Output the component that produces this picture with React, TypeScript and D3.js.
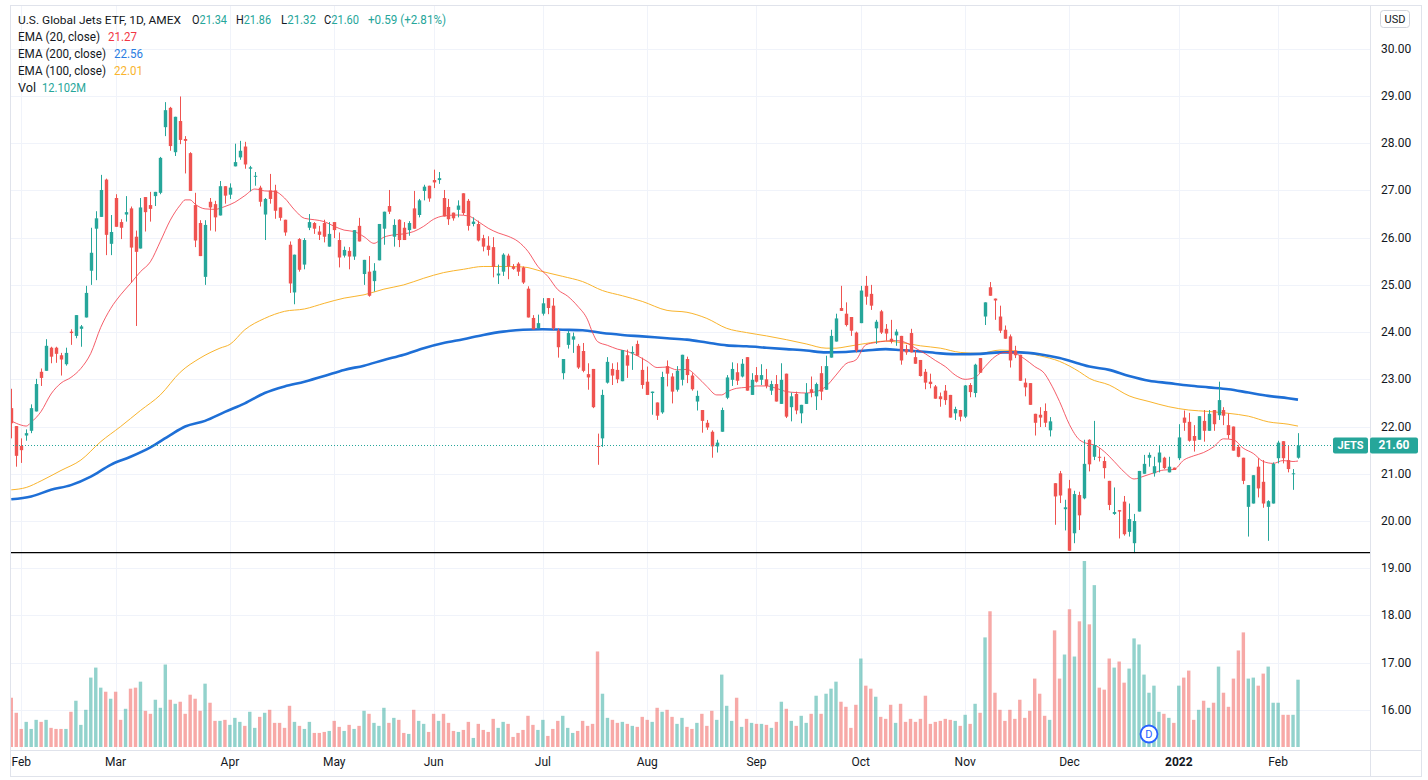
import React from 'react';
import * as d3 from 'd3';

// ---- Daily candles (Jan 28 2021 .. Feb 7 2022) ----
const opens = [22.39,22.01,21.59,21.81,21.91,22.32,23.16,23.18,23.67,23.67,23.51,23.32,24.01,23.92,24.07,24.31,25.30,26.19,26.44,27.23,25.87,26.84,26.33,26.49,26.62,26.02,25.77,26.86,26.69,26.88,26.95,28.34,28.75,27.81,28.47,28.09,27.79,26.69,26.31,25.17,26.76,26.71,26.47,27.09,26.91,27.51,27.70,27.93,27.46,27.29,27.06,26.49,27.00,27.00,26.64,26.38,25.85,24.84,25.97,25.43,26.21,26.31,26.13,26.31,25.81,26.33,25.95,25.62,25.72,25.60,26.25,25.23,25.28,25.08,25.52,26.19,26.67,26.02,26.38,26.21,26.16,26.62,26.48,26.99,27.10,27.22,27.22,26.84,26.65,26.53,26.59,26.94,26.78,26.29,26.29,25.99,25.83,25.80,25.20,25.28,25.62,25.39,25.45,25.37,24.92,24.30,24.08,24.39,24.72,24.56,24.03,23.13,23.73,23.84,23.71,23.60,23.11,23.22,21.59,21.75,22.93,23.22,23.20,22.96,23.51,23.55,23.75,23.20,22.95,22.71,22.51,22.30,23.28,23.06,22.78,22.99,23.43,23.08,22.53,22.35,22.08,21.89,21.58,21.89,22.61,22.99,23.15,23.06,23.47,22.67,23.09,22.99,23.00,22.76,22.90,22.48,23.12,22.41,22.69,22.28,22.48,22.79,22.64,23.13,22.78,23.46,23.80,24.51,24.39,24.32,23.99,24.19,24.98,24.81,24.08,24.44,24.07,23.86,23.93,23.92,23.64,23.98,23.47,23.41,23.16,22.95,22.85,22.64,22.76,22.67,22.28,22.35,22.21,22.88,22.71,23.45,24.33,24.95,24.71,24.33,24.05,23.91,23.61,23.52,22.93,22.92,22.27,22.25,22.33,21.92,20.80,21.01,20.25,20.69,19.74,20.55,20.48,21.72,21.36,21.36,21.27,20.85,20.15,20.23,20.41,19.77,19.53,20.20,21.00,21.34,21.01,21.24,21.34,21.03,21.13,21.33,22.19,22.10,21.80,21.72,22.12,21.91,22.35,22.24,22.35,22.03,22.00,21.57,21.34,20.30,20.37,21.15,20.83,20.30,20.37,21.33,21.69,21.29,20.99,21.34];
const highs = [22.80,22.01,21.75,21.94,22.47,23.01,23.23,23.85,23.69,23.69,23.56,23.67,24.06,24.36,24.15,24.98,26.21,26.56,27.33,27.25,26.48,26.92,26.39,26.88,26.66,26.15,26.84,26.86,26.97,26.97,27.71,28.87,28.77,28.56,28.99,28.15,27.81,26.95,26.37,26.37,26.84,26.78,27.20,27.09,27.15,27.99,28.05,28.03,27.52,27.39,27.10,26.84,27.35,27.12,26.64,26.38,25.92,25.64,25.99,25.99,26.50,26.33,26.25,26.38,26.33,26.33,26.11,25.81,25.80,26.16,26.42,25.53,25.61,25.46,26.29,26.55,27.01,26.39,26.39,26.33,26.35,26.99,26.82,27.12,27.10,27.44,27.39,27.01,26.82,26.53,26.79,26.94,26.82,26.43,26.36,26.06,26.03,26.01,25.43,25.67,25.66,25.44,25.48,25.39,24.97,24.36,24.37,24.72,24.72,24.72,24.08,23.43,24.03,23.99,23.75,23.77,23.34,23.22,21.85,22.78,23.47,23.34,23.36,23.62,23.63,23.70,23.82,23.46,23.27,22.74,22.51,23.16,23.40,23.13,23.28,23.52,23.48,23.13,22.76,22.35,22.14,21.92,21.72,22.40,23.09,23.36,23.34,23.43,23.47,23.13,23.26,23.32,23.22,22.97,23.09,23.34,23.12,22.72,22.74,22.46,22.92,23.06,22.93,23.28,23.50,24.05,24.39,24.98,24.63,24.32,24.01,24.98,25.19,25.00,24.26,24.47,24.17,24.26,24.06,23.92,23.73,24.07,23.61,23.41,23.22,23.12,22.88,22.72,22.88,22.67,22.42,22.35,22.88,22.92,23.33,23.45,24.63,25.06,24.71,24.56,24.14,23.95,23.71,23.52,23.02,22.92,22.27,22.41,22.49,22.20,20.80,21.06,20.45,20.87,20.64,20.62,21.72,21.73,22.12,21.54,21.36,20.85,20.71,20.23,20.53,20.37,20.15,21.06,21.40,21.45,21.36,21.60,21.36,21.36,21.13,22.05,22.34,22.29,22.03,22.22,22.35,22.35,22.35,22.95,22.41,22.28,22.00,21.61,21.34,20.76,20.97,21.33,21.29,20.44,21.24,21.70,21.69,21.59,21.10,21.86];
const lows = [21.75,21.15,21.23,21.70,21.86,22.32,22.86,23.18,23.34,23.35,23.08,23.29,23.73,23.87,23.69,24.31,25.00,25.10,26.44,25.63,25.63,26.23,25.97,26.34,25.05,24.13,25.77,26.13,26.34,26.67,26.92,28.15,27.84,27.73,27.98,27.36,26.99,25.80,25.61,25.00,26.15,26.13,26.47,26.72,26.82,27.51,27.65,27.46,26.98,27.10,26.66,25.95,26.72,26.40,26.36,26.04,24.83,24.59,25.28,25.33,26.16,26.08,25.95,25.90,25.81,25.99,25.37,25.58,25.33,25.53,25.92,25.00,24.75,24.86,25.52,25.85,26.50,25.81,25.80,25.95,26.04,26.19,26.43,26.79,26.76,27.05,27.14,26.45,26.27,26.36,26.43,26.48,26.15,26.24,25.92,25.71,25.62,25.16,25.02,25.19,25.12,25.32,25.19,25.02,24.31,24.06,24.08,24.35,24.38,24.04,23.46,23.00,23.65,23.56,23.22,23.15,22.78,22.39,21.19,21.57,22.91,22.88,22.92,22.96,23.03,23.20,23.50,22.80,22.67,22.25,22.14,22.27,22.85,22.49,22.74,22.87,22.92,22.76,22.34,21.87,21.93,21.34,21.45,21.89,22.58,22.86,22.88,23.04,22.76,22.67,22.93,22.88,22.81,22.67,22.53,22.48,22.18,22.11,22.26,22.07,22.48,22.62,22.35,22.56,22.78,23.46,23.80,24.45,24.12,23.92,23.57,24.19,24.58,24.47,23.75,23.96,23.82,23.76,23.71,23.31,23.52,23.57,23.33,23.06,22.79,22.81,22.59,22.42,22.46,22.19,22.14,22.11,22.18,22.62,22.62,23.14,24.15,24.77,24.26,23.98,23.86,23.25,23.45,22.97,22.64,22.46,21.81,21.99,21.99,21.79,19.92,20.38,19.80,19.37,19.53,19.81,20.46,21.05,21.29,21.26,20.90,20.23,20.13,19.63,19.69,19.67,19.32,20.20,21.00,21.15,20.94,21.03,21.10,21.03,21.08,21.29,21.91,21.68,21.47,21.72,21.68,21.91,21.91,22.14,22.03,21.74,21.49,21.35,20.78,19.67,20.37,20.50,20.28,19.58,20.37,21.22,21.22,21.03,20.66,21.32];
const closes = [22.07,21.38,21.50,21.86,22.39,22.90,23.03,23.71,23.48,23.54,23.42,23.56,23.98,24.36,24.12,24.83,25.68,26.41,27.01,26.06,26.12,26.23,26.21,26.54,25.79,25.70,26.64,26.54,26.61,26.97,27.69,28.70,27.94,28.56,28.07,28.05,26.99,25.94,25.61,26.27,26.64,26.43,27.09,26.89,27.06,27.60,27.84,27.55,27.49,27.31,26.76,26.82,26.82,26.57,26.42,26.11,25.03,25.64,25.32,25.95,26.33,26.19,26.06,26.02,26.08,26.16,25.58,25.74,25.60,26.16,25.92,25.53,24.77,25.30,26.29,26.55,26.55,26.27,25.95,25.95,26.31,26.19,26.79,27.08,26.83,27.17,27.26,26.45,26.39,26.41,26.68,26.52,26.25,26.34,25.94,25.81,25.74,25.38,25.24,25.64,25.39,25.34,25.28,25.05,24.31,24.06,24.19,24.61,24.51,24.08,23.68,23.43,23.98,23.91,23.25,23.18,23.04,22.41,21.57,22.67,23.37,23.08,23.00,23.62,23.29,23.58,23.50,22.88,22.67,22.74,22.23,23.05,23.12,22.74,23.18,23.52,23.09,22.79,22.65,22.12,21.98,21.58,21.66,22.35,23.04,23.22,22.97,23.33,22.76,22.99,22.95,23.09,22.86,22.90,22.53,22.99,22.21,22.64,22.34,22.46,22.71,22.72,22.90,22.74,23.28,23.92,24.29,24.45,24.15,24.03,23.61,24.88,24.75,24.56,24.22,23.99,23.97,23.80,24.01,23.40,23.57,23.57,23.33,23.07,22.93,22.90,22.59,22.58,22.56,22.19,22.37,22.21,22.87,22.73,23.31,23.14,24.63,24.77,24.67,24.03,23.86,23.40,23.51,22.97,22.83,22.46,22.08,22.19,22.08,22.11,20.52,20.54,20.29,19.37,20.57,20.12,21.21,21.20,21.61,21.34,21.12,20.34,20.19,20.20,19.72,20.04,20.00,21.06,21.21,21.40,21.16,21.45,21.12,21.15,21.08,21.77,22.08,21.70,21.70,22.22,21.91,22.27,22.05,22.56,22.23,21.82,21.49,21.36,20.85,20.76,20.97,20.69,20.37,20.42,21.21,21.66,21.33,21.10,21.01,21.60];
// volume, millions of shares
const volumes = [8.86,6.15,3.25,4.52,3.25,4.88,4.52,4.88,3.44,3.25,3.25,3.25,6.33,8.32,3.98,6.69,12.48,14.28,10.67,9.94,8.68,9.94,4.88,6.87,10.49,10.67,11.75,6.51,5.97,8.50,7.05,14.83,8.50,7.77,8.14,5.97,9.40,8.68,6.51,11.39,7.96,4.70,4.70,4.88,3.98,5.24,4.52,3.80,6.33,3.44,5.42,6.15,6.69,4.34,4.34,3.44,7.41,4.52,3.80,3.25,4.52,2.53,2.53,2.71,2.89,4.70,3.62,2.89,3.98,3.25,3.80,6.51,5.97,4.34,3.80,7.05,4.34,5.24,4.88,2.53,2.35,6.69,4.70,4.16,2.71,5.97,4.70,5.97,4.34,2.89,2.71,3.07,4.52,1.63,4.16,3.07,2.71,5.06,3.44,4.52,4.16,1.81,2.53,3.07,5.61,3.98,3.07,4.88,1.99,3.25,4.70,5.61,3.44,2.53,2.89,4.70,3.80,4.16,17.18,9.58,5.24,4.88,4.34,4.52,4.16,3.80,3.62,5.42,4.88,4.52,7.05,6.33,6.69,5.42,4.16,5.24,3.62,3.25,4.34,5.97,3.80,6.51,4.88,13.02,7.41,4.70,8.86,3.62,5.06,4.34,4.16,4.16,3.98,3.44,4.52,8.14,6.87,4.70,3.80,5.61,4.34,5.97,9.22,5.97,9.58,10.49,11.75,8.14,7.23,3.44,7.59,15.91,11.03,10.49,9.04,5.42,5.06,7.59,4.34,7.77,4.52,5.06,4.52,5.06,9.22,4.16,4.52,4.70,5.06,4.88,4.70,3.80,5.79,4.16,7.77,6.15,19.71,24.41,9.76,6.69,4.70,6.69,5.06,8.50,5.24,6.51,12.30,9.58,5.61,4.88,20.97,12.30,16.63,24.77,16.27,22.60,33.45,22.06,29.11,10.67,10.31,15.91,14.28,15.37,11.57,14.10,19.53,18.44,13.02,9.76,11.03,6.33,5.97,5.24,4.34,11.03,12.48,13.74,4.88,6.69,8.32,7.05,7.96,14.46,9.76,7.23,12.30,17.36,20.61,12.30,12.48,11.03,13.20,14.46,7.96,7.96,5.79,5.79,5.79,12.102];

// ---- Moving averages, sampled [bar index, value] ----
const ema20Pts: [number, number][] = [[0,22.12],[2,22.03],[3,22.01],[4,22.09],[6,22.32],[8,22.69],[10,22.92],[12,23.04],[14,23.23],[16,23.55],[18,24.10],[20,24.50],[22,24.79],[24,25.03],[26,25.28],[28,25.49],[30,25.92],[32,26.37],[34,26.69],[35,26.80],[36,26.80],[37,26.71],[39,26.61],[41,26.60],[43,26.66],[45,26.75],[47,26.89],[49,27.03],[51,26.99],[53,26.98],[55,26.84],[57,26.59],[59,26.41],[61,26.38],[63,26.34],[65,26.24],[67,26.16],[69,26.13],[71,26.02],[73,25.88],[75,26.01],[77,26.06],[79,26.08],[81,26.13],[83,26.24],[85,26.39],[87,26.46],[90,26.48],[92,26.46],[94,26.34],[96,26.20],[98,26.10],[100,26.03],[102,25.92],[104,25.71],[106,25.39],[108,25.18],[110,24.90],[112,24.76],[114,24.55],[116,24.26],[117,23.99],[118,23.80],[120,23.72],[122,23.64],[124,23.59],[126,23.50],[128,23.38],[130,23.25],[132,23.26],[134,23.20],[136,23.21],[138,23.06],[140,22.85],[142,22.67],[143,22.67],[144,22.73],[146,22.81],[148,22.83],[150,22.86],[152,22.86],[154,22.81],[156,22.74],[158,22.72],[160,22.71],[162,22.74],[164,22.85],[166,23.09],[168,23.33],[170,23.41],[172,23.73],[174,23.78],[176,23.81],[178,23.82],[180,23.78],[182,23.66],[184,23.54],[186,23.40],[188,23.27],[190,23.09],[192,23.00],[194,23.04],[196,23.27],[198,23.48],[200,23.57],[202,23.55],[204,23.43],[206,23.27],[208,23.12],[209,22.95],[211,22.53],[213,22.04],[215,21.72],[217,21.63],[218,21.61],[220,21.47],[222,21.26],[224,21.04],[226,20.89],[228,20.95],[230,21.02],[232,21.08],[234,21.09],[236,21.29],[238,21.38],[240,21.45],[242,21.57],[244,21.74],[246,21.72],[248,21.54],[250,21.43],[252,21.26],[254,21.22],[256,21.28],[258,21.26],[259,21.27]];
const ema100Pts: [number, number][] = [[0,20.66],[3,20.71],[6,20.85],[10,21.07],[14,21.29],[18,21.68],[22,22.00],[26,22.34],[30,22.67],[34,23.15],[38,23.45],[42,23.66],[44,23.74],[47,24.05],[51,24.29],[55,24.44],[59,24.49],[63,24.61],[67,24.72],[71,24.79],[75,24.91],[79,25.00],[83,25.14],[87,25.26],[91,25.33],[95,25.39],[99,25.39],[103,25.38],[107,25.28],[111,25.18],[115,25.07],[119,24.88],[123,24.77],[127,24.65],[132,24.46],[136,24.42],[140,24.29],[144,24.08],[148,23.99],[152,23.92],[156,23.84],[160,23.75],[164,23.66],[166,23.66],[168,23.69],[172,23.76],[176,23.81],[179,23.78],[183,23.71],[187,23.66],[191,23.57],[195,23.55],[199,23.62],[203,23.59],[207,23.50],[211,23.38],[215,23.16],[217,23.02],[221,22.88],[225,22.65],[229,22.53],[233,22.42],[237,22.35],[241,22.32],[245,22.28],[249,22.22],[253,22.10],[257,22.05],[259,22.01]];
const ema200Pts: [number, number][] = [[0,20.46],[4,20.52],[8,20.66],[12,20.76],[16,20.94],[20,21.19],[24,21.36],[28,21.56],[32,21.82],[35,22.00],[39,22.12],[43,22.31],[47,22.49],[51,22.71],[55,22.85],[59,22.95],[63,23.07],[67,23.20],[71,23.29],[75,23.41],[79,23.52],[83,23.66],[87,23.77],[91,23.85],[95,23.94],[99,24.01],[103,24.05],[107,24.06],[111,24.05],[115,24.04],[119,23.98],[123,23.94],[127,23.91],[132,23.87],[136,23.84],[140,23.78],[144,23.72],[148,23.70],[152,23.67],[156,23.64],[160,23.61],[164,23.57],[168,23.58],[172,23.61],[176,23.64],[179,23.62],[183,23.59],[187,23.55],[191,23.53],[195,23.54],[199,23.57],[203,23.57],[207,23.53],[211,23.45],[215,23.33],[217,23.27],[221,23.20],[225,23.07],[229,22.97],[233,22.92],[237,22.87],[241,22.83],[245,22.79],[249,22.72],[253,22.65],[257,22.60],[259,22.57]];

// ---- Axis labels ----
const monthLabels = ['Feb','Mar','Apr','May','Jun','Jul','Aug','Sep','Oct','Nov','Dec','2022','Feb'];
const monthIdx = [2,21,44,65,85,107,128,150,171,192,213,235,255];
const priceTicks = [30,29,28,27,26,25,24,23,22,21,20,19,18,17,16];
const supportLevel = 19.33;
const dividendIdx = 229;
const lastPrice = 21.60;

const UP = '#26a69a';
const DOWN = '#ef5350';
const FONT = 'Roboto, "Noto Sans", sans-serif';

export default function App() {
  const N = closes.length;
  const x = d3.scaleLinear().domain([0, N - 1]).range([11.3, 11.3 + (N - 1) * 4.968]);
  const y = d3.scaleLinear().domain([20, 29]).range([521, 96]);
  const yVol = d3.scaleLinear().domain([0, d3.max(volumes) as number]).range([747, 561]);
  const line = d3.line<[number, number]>().x(d => x(d[0])).y(d => y(d[1])).curve(d3.curveMonotoneX);

  const plotL = 10, plotR = 1370, plotT = 5, plotB = 750;
  const bodyW = 3.4;
  const fit = { lengthAdjust: 'spacingAndGlyphs' as const };
  const ohlc: [string, number, number][] = [
    ['O', opens[N - 1], 192], ['H', highs[N - 1], 236], ['L', lows[N - 1], 281], ['C', closes[N - 1], 324],
  ];

  return (
    <div style={{ position: 'absolute', left: 0, top: 0, width: 1428, height: 780, background: '#fff' }}>
      <svg width={1428} height={780} style={{ display: 'block', fontFamily: FONT }}>
        <defs>
          <clipPath id="plot"><rect x={plotL} y={plotT} width={plotR - plotL} height={plotB - plotT} /></clipPath>
        </defs>
        <rect x={0} y={0} width={1428} height={780} fill="#fff" />
        {/* grid */}
        <g stroke="#f0f3fa" strokeWidth={1}>
          {priceTicks.map(p => (
            <line key={'h' + p} x1={plotL} x2={plotR} y1={Math.round(y(p)) + 0.5} y2={Math.round(y(p)) + 0.5} />
          ))}
          {monthIdx.map((m, k) => (
            <line key={'v' + k} x1={Math.round(x(m)) + 0.5} x2={Math.round(x(m)) + 0.5} y1={plotT} y2={plotB} />
          ))}
        </g>
        <g clipPath="url(#plot)">
          {/* volume */}
          {volumes.map((v, i) => (
            <rect key={'v' + i} x={x(i) - bodyW / 2} width={bodyW} y={yVol(v)} height={yVol(0) - yVol(v)}
              fill={closes[i] >= opens[i] ? UP : DOWN} fillOpacity={0.5} />
          ))}
          {/* EMAs */}
          <path d={line(ema100Pts) || ''} fill="none" stroke="#f9b42d" strokeWidth={1} />
          <path d={line(ema200Pts) || ''} fill="none" stroke="#1e6fd6" strokeWidth={2.6} />
          <path d={line(ema20Pts) || ''} fill="none" stroke="#f23645" strokeOpacity={0.8} strokeWidth={1} />
          {/* candles */}
          {closes.map((c, i) => {
            const o = opens[i];
            const col = c >= o ? UP : DOWN;
            const top = y(Math.max(o, c));
            const bot = y(Math.min(o, c));
            const cx = Math.round(x(i)) + 0.5;
            return (
              <g key={'c' + i}>
                <line x1={cx} x2={cx} y1={y(highs[i])} y2={y(lows[i])} stroke={col} strokeWidth={1} />
                <rect x={cx - bodyW / 2} width={bodyW} y={top} height={Math.max(1, bot - top)} fill={col} />
              </g>
            );
          })}
          {/* support line */}
          <line x1={plotL} x2={plotR} y1={y(supportLevel)} y2={y(supportLevel)} stroke="#000" strokeWidth={1.2} />
          {/* last price line */}
          <line x1={plotL} x2={1333} y1={Math.round(y(lastPrice)) + 0.5} y2={Math.round(y(lastPrice)) + 0.5}
            stroke={UP} strokeWidth={1} strokeDasharray="1 2" />
          {/* dividend marker */}
          <circle cx={x(dividendIdx)} cy={734} r={8.5} fill="#fff" stroke="#2962ff" strokeWidth={1.8} />
          <text x={x(dividendIdx)} y={738} textAnchor="middle" fontSize={11} fill="#2962ff">D</text>
        </g>

        {/* frame */}
        <rect x={plotL + 0.5} y={plotT + 0.5} width={1421 - plotL} height={776 - plotT} fill="none" stroke="#e0e3eb" />
        <line x1={plotR + 0.5} x2={plotR + 0.5} y1={plotT} y2={776} stroke="#e0e3eb" />
        <line x1={plotL} x2={1421} y1={plotB + 0.5} y2={plotB + 0.5} stroke="#e0e3eb" />

        {/* price axis */}
        {priceTicks.map(p => (
          <text key={'pt' + p} x={1381} y={y(p) + 4} fontSize={12} fill="#131722">{p.toFixed(2)}</text>
        ))}
        <rect x={1380.5} y={10.5} width={29} height={17} rx={3} fill="#fff" stroke="#d1d4dc" />
        <text x={1395} y={23} fontSize={11} textAnchor="middle" fill="#131722">USD</text>
        <rect x={1333} y={y(lastPrice) - 8} width={35} height={16} rx={2} fill={UP} />
        <text x={1350.5} y={y(lastPrice) + 4} fontSize={11} fontWeight="bold" textAnchor="middle" fill="#fff">JETS</text>
        <rect x={1370} y={y(lastPrice) - 8} width={48} height={16} rx={2} fill={UP} />
        <text x={1394} y={y(lastPrice) + 4} fontSize={12} fontWeight="bold" textAnchor="middle" fill="#fff">{lastPrice.toFixed(2)}</text>

        {/* time axis */}
        {monthLabels.map((m, k) => (
          <text key={'m' + k} x={x(monthIdx[k])} y={766} fontSize={12} textAnchor="middle"
            fontWeight={m === '2022' ? 'bold' : 'normal'} fill="#131722">{m}</text>
        ))}

        {/* legend */}
        <g fontSize={13} fill="#131722">
          <text x={18} y={24} fontSize={11.8} textLength={163} {...fit}>U.S. Global Jets ETF, 1D, AMEX</text>
          {ohlc.map(([k, v, px]) => (
            <text key={k} x={px} y={24} textLength={35} {...fit}>{k}<tspan fill={UP}>{v.toFixed(2)}</tspan></text>
          ))}
          <text x={368} y={24} fill={UP} textLength={78} {...fit}>+0.59 (+2.81%)</text>
          <text x={18} y={41} textLength={82} {...fit}>EMA (20, close)</text>
          <text x={108} y={41} fill="#f23645" textLength={29} {...fit}>21.27</text>
          <text x={18} y={58} textLength={88} {...fit}>EMA (200, close)</text>
          <text x={114} y={58} fill="#2a7de1" textLength={29} {...fit}>22.56</text>
          <text x={18} y={75} textLength={88} {...fit}>EMA (100, close)</text>
          <text x={114} y={75} fill="#f9b42d" textLength={29} {...fit}>22.01</text>
          <text x={18} y={92} textLength={18} {...fit}>Vol</text>
          <text x={42} y={92} fill={UP} textLength={44} {...fit}>12.102M</text>
        </g>
      </svg>
    </div>
  );
}
